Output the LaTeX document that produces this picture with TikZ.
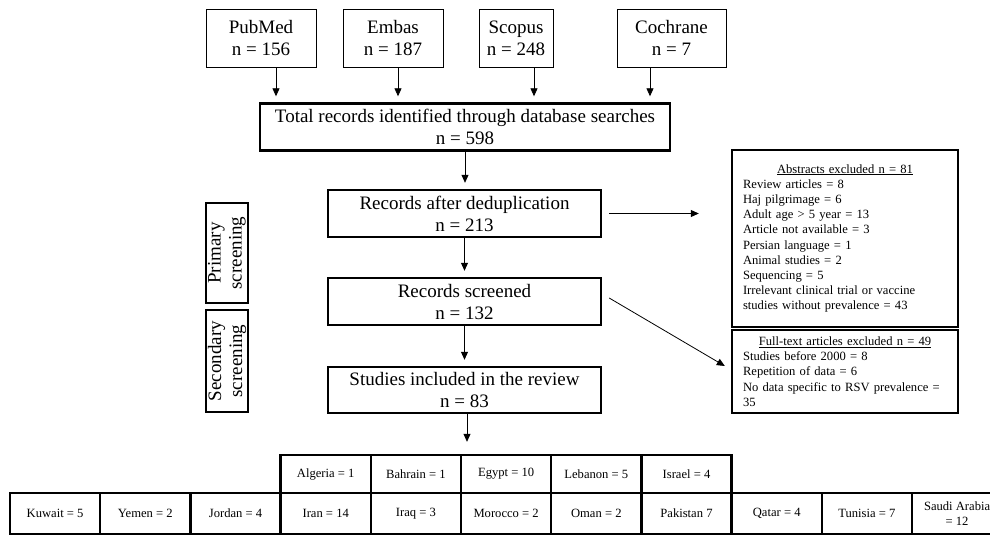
\documentclass[tikz,border=0pt]{standalone}
\usepackage{fontspec}
\setmainfont{Liberation Serif}
\usetikzlibrary{arrows.meta}
\setlength{\parindent}{0pt}

\tikzset{
  thinbox/.style={draw, line width=0.8pt, align=center, inner sep=0pt},
  heavybox/.style={draw, line width=2.4pt, align=center, inner sep=0pt},
  bigtext/.style={font=\fontsize{19}{22}\selectfont},
  smalltext/.style={font=\fontsize{12.6}{15.2}\selectfont},
}

\begin{document}
\begin{tikzpicture}[x=1pt,y=-1pt,>={Triangle[length=8pt,width=7pt]}]
	\useasboundingbox (0,0) rectangle (990,535);

	% databases
	\begin{scope}[every node/.style={thinbox,bigtext,minimum height=58pt}]
		\node [minimum width=110pt] (pubmed) at (261,38) {PubMed\\n = 156};
		\node [minimum width=100pt] (embas) at (393,38) {Embas\\n = 187};
		\node [minimum width=74pt] (scopus) at (516,38) {Scopus\\n = 248};
		\node [minimum width=109pt] (cochrane) at (671.5,38) {Cochrane\\n = 7};
	\end{scope}

	\begin{scope}[every node/.style={heavybox,bigtext,minimum width=273pt,minimum height=47pt}]
		\node [minimum width=410pt] (total) at (465,127) {Total records identified through database searches\\n = 598};
		\node (dedup) at (464.5,213.5) {Records after deduplication\\n = 213};
		\node (screened) at (464.5,301.5) {Records screened\\n = 132};
		\node [minimum height=46pt] (included) at (464.5,390) {Studies included in the review\\n = 83};
	\end{scope}

	\begin{scope}[every node/.style={heavybox,font=\fontsize{19}{21}\selectfont,rotate=90,minimum height=42pt}]
		\node [minimum width=100pt] (primary) at (227,253) {Primary\\screening};
		\node [minimum width=102pt] (secondary) at (227,361) {Secondary\\screening};
	\end{scope}

	\begin{scope}[every node/.style={heavybox,smalltext,minimum width=226pt,text width=204pt,align=left}]
		\node [minimum height=177pt] (abstracts) at (845,238.5) {\makebox[\hsize][c]{\underline{Abstracts excluded n = 81}}\\
			Review articles = 8\\
			Haj pilgrimage = 6\\
			Adult age > 5 year = 13\\
			Article not available = 3\\
			Persian language = 1\\
			Animal studies = 2\\
			Sequencing = 5\\
			Irrelevant clinical trial or vaccine\\
			studies without prevalence = 43};
		\node [minimum height=83pt] (fulltext) at (845,371.5) {\makebox[\hsize][c]{\underline{Full-text articles excluded n = 49}}\\
			Studies before 2000 = 8\\
			Repetition of data = 6\\
			No data specific to RSV prevalence =\\
			35};
	\end{scope}

	% countries
	\begin{scope}[every node/.style={heavybox,smalltext,minimum width=90.2pt}]
		\foreach \txt [count=\i from 4] in {Algeria = 1, Bahrain = 1, Egypt = 10, Lebanon = 5, Israel = 4}
			\node [minimum height=38pt] (up\i) at (10+90.2*\i-45.1,474) {\txt};
		\foreach \txt [count=\i] in {Kuwait = 5, Yemen = 2, Jordan = 4, Iran = 14, Iraq = 3, Morocco = 2, Oman = 2, Pakistan 7, Qatar = 4, Tunisia = 7, {Saudi Arabia\\= 12}}
			\node [minimum height=41pt] (low\i) at (10+90.2*\i-45.1,513.5) {\txt};
	\end{scope}

	\begin{scope}[every edge/.style={draw,line width=0.8pt,shorten >=6pt}]
		\path [->] ([xshift=15pt]pubmed.south) edge ([xshift=15pt]pubmed.south |- total.north);
		\path [->] ([xshift=5pt]embas.south) edge ([xshift=5pt]embas.south |- total.north);
		\path [->] ([xshift=18pt]scopus.south) edge ([xshift=18pt]scopus.south |- total.north);
		\path [->] ([xshift=-21.5pt]cochrane.south) edge ([xshift=-21.5pt]cochrane.south |- total.north);
		\path [->] (total.south) edge (total.south |- dedup.north);
		\path [->] (dedup) edge (screened);
		\path [->] (screened) edge (included);
		\path [->] ([xshift=2.5pt]included.south) edge [shorten >=12pt] ([xshift=2.5pt]included.south |- up6.north);
		\path [->] ([xshift=7pt]dedup.east) edge [shorten >=0pt] ([xshift=-32pt]abstracts.west |- dedup.east);
		\path [->] ([xshift=7pt,yshift=3.5pt]screened.east) edge [shorten >=0pt] ([xshift=-6pt,yshift=5.5pt]fulltext.west);
	\end{scope}
\end{tikzpicture}
\end{document}
